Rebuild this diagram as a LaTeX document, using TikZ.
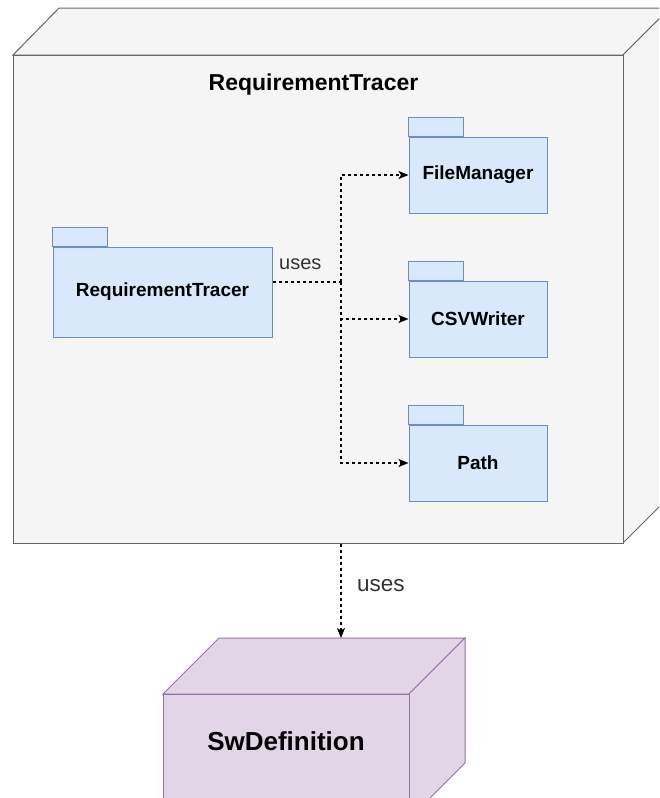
\documentclass[tikz,border=0pt]{standalone}
\usepackage{fontspec}
\setmainfont{Liberation Sans}
\usetikzlibrary{arrows.meta}
\definecolor{boxfill}{HTML}{F5F5F5}
\definecolor{boxline}{HTML}{666666}
\definecolor{pkgfill}{HTML}{DAE8FC}
\definecolor{pkgline}{HTML}{6C8EBF}
\definecolor{swfill}{HTML}{E1D5E7}
\definecolor{swline}{HTML}{9673A6}
\definecolor{labelcol}{HTML}{333333}
\tikzset{
  outerbox/.style={fill=boxfill, draw=boxline, line width=1pt, line join=miter},
  swbox/.style={fill=swfill, draw=swline, line width=1pt, line join=miter},
  pkgbody/.style={rectangle, fill=pkgfill, draw=pkgline, line width=1pt, inner sep=0pt,
     minimum width=138pt, minimum height=76pt, font=\fontsize{19}{23}\selectfont\bfseries},
  pkgtab/.style={fill=pkgfill, draw=pkgline, line width=1pt},
  dep/.style={draw=black, line width=1.5pt, dash pattern=on 3pt off 3pt,
     -{Stealth[length=10pt,width=8pt,inset=2.5pt]}},
  depline/.style={draw=black, line width=1.5pt, dash pattern=on 3pt off 3pt},
  usestext/.style={text=labelcol, inner sep=0pt}
}
\begin{document}
\begin{tikzpicture}[x=1pt,y=-1pt]
\useasboundingbox (0,0) rectangle (659,798);
\clip (0,0) rectangle (659,798);
% outer 3D box
\draw[outerbox] (13,55) -- (59,8) -- (670,8) -- (623,55) -- cycle;
\draw[outerbox] (623,55) -- (670,8) -- (670,496) -- (623,543) -- cycle;
\node[outerbox, rectangle, inner sep=0pt, minimum width=610pt, minimum height=488pt] (rtbox) at (318,299) {};
\node[inner sep=0pt, font=\fontsize{23}{27}\selectfont\bfseries] (title) at (313.5,85) {RequirementTracer};
% packages
\node[pkgbody, minimum width=219pt, minimum height=90pt] (rt) at (162.5,292) {RequirementTracer};
\draw[pkgtab] (rt.north west) rectangle ++(55,-19);
\node[pkgbody] (fm) at (478,175) {FileManager};
\draw[pkgtab] (fm.north west) rectangle ++(55,-19);
\node[pkgbody] (csv) at (478,319) {CSVWriter};
\draw[pkgtab] (csv.north west) rectangle ++(55,-19);
\node[pkgbody] (path) at (478,463) {Path};
\draw[pkgtab] (path.north west) rectangle ++(55,-19);
% connectors
\coordinate (j) at (341,282);
\draw[depline] (rt.east |- j) -- (j);
\draw[dep] (j) |- (fm.west);
\draw[dep] (j) |- (csv.west);
\draw[dep] (j) |- (path.west);
\node[usestext, anchor=west, font=\fontsize{20}{24}\selectfont] (uses1) at (279,264) {uses};
% SwDefinition 3D box
\draw[swbox] (163,694) -- (219,638) -- (465,638) -- (409,694) -- cycle;
\draw[swbox] (409,694) -- (465,638) -- (465,763) -- (409,819) -- cycle;
\node[swbox, rectangle, inner sep=0pt, minimum width=246pt, minimum height=125pt] (sw) at (286,756.5) {};
\node[inner sep=0pt, font=\fontsize{26}{31}\selectfont\bfseries] (swlabel) at (286,741) {SwDefinition};
\coordinate (swin) at (341,638);
\draw[dep] (rtbox.south -| j) -- (swin);
\node[usestext, anchor=west, font=\fontsize{22.5}{27}\selectfont] (uses2) at (357,586) {uses};
\end{tikzpicture}
\end{document}
